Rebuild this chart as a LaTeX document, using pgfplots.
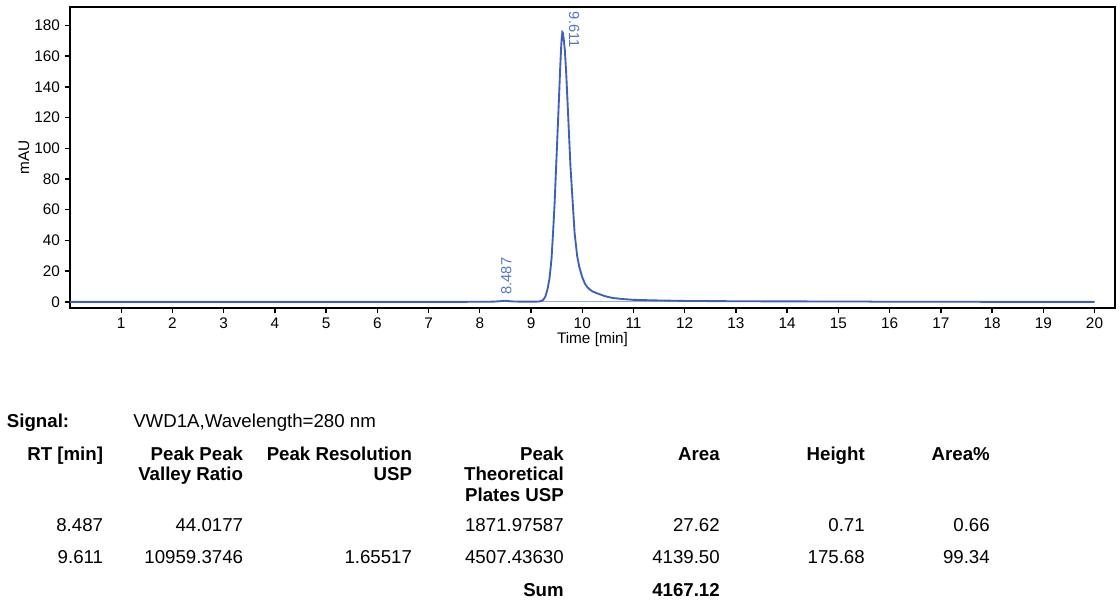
\documentclass[border=0pt]{standalone}
\usepackage{fontspec}
\setmainfont{Liberation Sans}
\usepackage{pgfplots}
\pgfplotsset{compat=1.18}
\definecolor{trace}{RGB}{62,96,186}
\definecolor{peaklbl}{RGB}{84,118,196}
\definecolor{intbase}{RGB}{150,170,225}
\newcommand{\tf}{\fontsize{14}{16}\selectfont}

\begin{document}
\begin{tikzpicture}
\useasboundingbox (0,0) rectangle (840pt,450pt);
\begin{axis}[
  at={(52.5pt,219pt)}, anchor=south west,
  scale only axis, width=783.75pt, height=225.75pt,
  xmin=0, xmax=20.4, ymin=-4, ymax=192,
  xtick={1,...,20}, ytick={0,20,...,180},
  axis line style={line width=1.6pt},
  tick align=outside, major tick length=4pt,
  major tick style={black, line width=1pt},
  xtick pos=bottom, ytick pos=left,
  tick label style={font=\fontsize{11.5}{13}\selectfont},
  /pgf/number format/assume math mode=true,
  xlabel={Time [min]}, ylabel={mAU},
  label style={font=\fontsize{11.5}{13}\selectfont},
  xlabel style={at={(axis description cs:0.5,-0.106)}, anchor=center},
  ylabel style={at={(axis description cs:-0.044,0.5)}, anchor=center},
]
  % integration baseline
  \addplot[intbase, line width=0.6pt] coordinates {(8.3,0) (15.6,0)};
  % signal VWD1A
  \addplot[trace, line width=1.4pt, mark=none] coordinates {
    (0,0) (7.5,0) (8.0,0.05) (8.2,0.1) (8.3,0.2) (8.4,0.45) (8.487,0.71)
    (8.56,0.5) (8.65,0.25) (8.8,0.15) (9.0,0.12) (9.1,0.15) (9.15,0.25)
    (9.2,0.5) (9.24,1.4) (9.28,3.5) (9.32,8) (9.36,15) (9.40,28) (9.43,45)
    (9.46,64) (9.49,88) (9.52,112) (9.545,132) (9.57,153) (9.59,167)
    (9.60,172) (9.611,175.68) (9.62,175.3) (9.635,172) (9.66,164)
    (9.685,150) (9.71,132) (9.74,110) (9.77,88) (9.80,72) (9.85,45)
    (9.90,30) (9.94,23) (10.00,16) (10.05,12) (10.10,9.5) (10.15,8)
    (10.20,6.8) (10.28,5.7) (10.40,4.2) (10.50,3.2) (10.60,2.5) (10.80,1.8)
    (11.00,1.3) (11.50,0.9) (12.00,0.6) (13.00,0.4) (14.00,0.3) (15.60,0.2)
    (15.7,0.05) (20,0)
  };
  \node[peaklbl, rotate=90, anchor=west, inner sep=0pt,
        font=\fontsize{11}{13}\selectfont] at (axis cs:8.52,4.6) {8.487};
  \node[peaklbl, rotate=-90, anchor=west, inner sep=0pt,
        font=\fontsize{11}{13}\selectfont] at (axis cs:9.84,189) {9.611};
\end{axis}

\begin{scope}[every node/.style={inner sep=0pt, anchor=base east}]
  \node[anchor=base west, font=\tf\bfseries] at (5pt,129.75pt) {Signal:};
  \node[anchor=base west, font=\tf] at (99.75pt,129.75pt) {VWD1A,Wavelength=280 nm};
  % headers
  \node[font=\tf\bfseries] at (77.5pt,105pt) {RT [min]};
  \node[font=\tf\bfseries] at (182.5pt,105pt) {Peak Peak};
  \node[font=\tf\bfseries] at (182.5pt,89.6pt) {Valley Ratio};
  \node[font=\tf\bfseries] at (309.2pt,105pt) {Peak Resolution};
  \node[font=\tf\bfseries] at (309.2pt,89.6pt) {USP};
  \node[font=\tf\bfseries] at (423pt,105pt) {Peak};
  \node[font=\tf\bfseries] at (423pt,89.6pt) {Theoretical};
  \node[font=\tf\bfseries] at (423pt,74.25pt) {Plates USP};
  \node[font=\tf\bfseries] at (540pt,105pt) {Area};
  \node[font=\tf\bfseries] at (648.75pt,105pt) {Height};
  \node[font=\tf\bfseries] at (742.5pt,105pt) {Area\%};
  % row 1
  \node[font=\tf] at (77.5pt,51.4pt) {8.487};
  \node[font=\tf] at (182.5pt,51.4pt) {44.0177};
  \node[font=\tf] at (423pt,51.4pt) {1871.97587};
  \node[font=\tf] at (540pt,51.4pt) {27.62};
  \node[font=\tf] at (648.75pt,51.4pt) {0.71};
  \node[font=\tf] at (742.5pt,51.4pt) {0.66};
  % row 2
  \node[font=\tf] at (77.5pt,27.75pt) {9.611};
  \node[font=\tf] at (182.5pt,27.75pt) {10959.3746};
  \node[font=\tf] at (309.2pt,27.75pt) {1.65517};
  \node[font=\tf] at (423pt,27.75pt) {4507.43630};
  \node[font=\tf] at (540pt,27.75pt) {4139.50};
  \node[font=\tf] at (648.75pt,27.75pt) {175.68};
  \node[font=\tf] at (742.5pt,27.75pt) {99.34};
  % sum
  \node[font=\tf\bfseries] at (423pt,3pt) {Sum};
  \node[font=\tf\bfseries] at (540pt,3pt) {4167.12};
\end{scope}
\end{tikzpicture}
\end{document}
